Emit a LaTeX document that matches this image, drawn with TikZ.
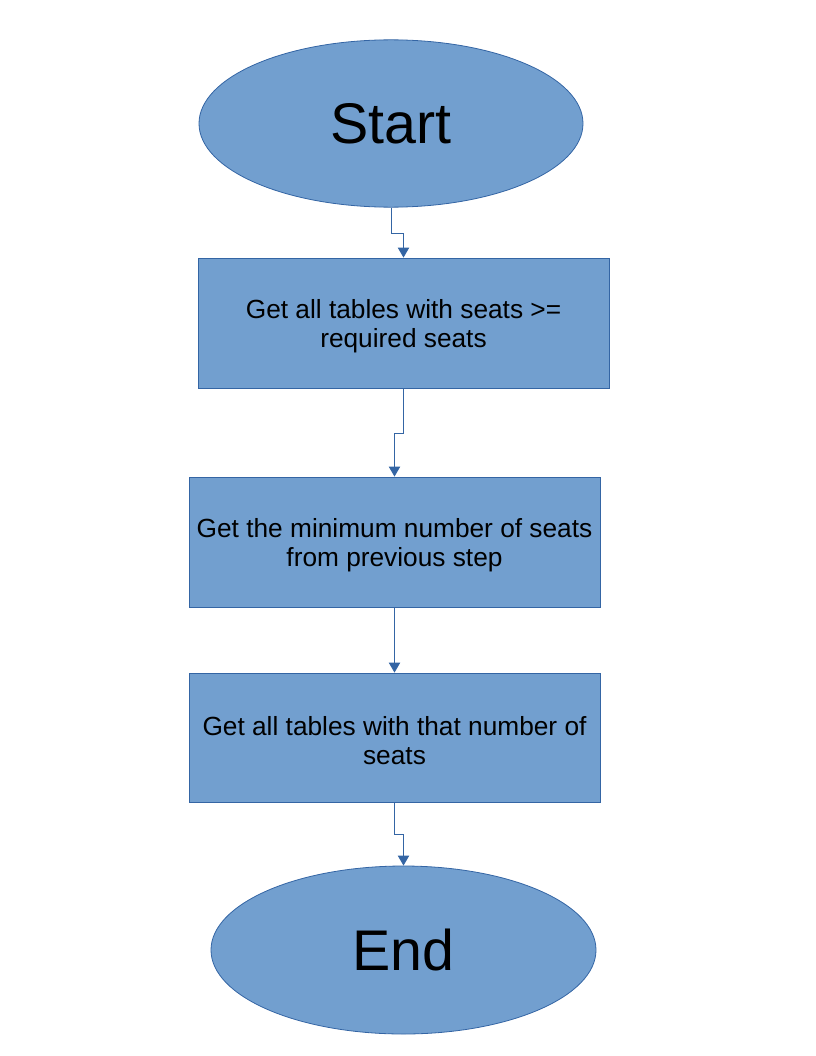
\documentclass[tikz,border=0pt]{standalone}
\usepackage{fontspec}
\setmainfont{Liberation Sans}
\usetikzlibrary{shapes.geometric,arrows.meta}
\definecolor{boxfill}{HTML}{729FCF}
\definecolor{boxline}{HTML}{3465A4}
\newcommand{\toppad}{\rule{0pt}{19pt}}
\tikzset{
  term/.style={ellipse, draw=boxline, fill=boxfill, line width=0.6pt, inner sep=0pt,
    minimum width=288pt, minimum height=125.5pt, font=\fontsize{43}{48}\selectfont},
  procbox/.style={rectangle, draw=boxline, fill=boxfill, line width=0.6pt, inner sep=0pt,
    minimum width=308.25pt, minimum height=97.5pt, align=center,
    font=\fontsize{19.7}{21.5}\selectfont},
  conn/.style={draw=boxline, line width=0.75pt, -{Triangle[width=8.5pt,length=7.5pt]}}
}
\begin{document}
\begin{tikzpicture}[x=0.75pt,y=-0.75pt]
\useasboundingbox (0,0) rectangle (816,1056);
\node[term] (s) at (391,123.5) {Start};
\node[procbox] (b1) at (403.5,323) {\toppad Get all tables with seats >=\\required seats};
\node[procbox] (b2) at (394.5,542) {\toppad Get the minimum number of seats \\from previous step};
\node[procbox, minimum height=96.75pt] (b3) at (394.5,737.5) {\toppad Get all tables with that number of\\seats};
\node[term, minimum width=288.75pt, minimum height=126pt] (e) at (403.5,950) {End};
\draw[conn] (s.south) -- ++(0,26) -| (b1.north);
\draw[conn] (b1.south) -- ++(0,45) -| (b2.north);
\draw[conn] (b2.south) -- (b3.north);
\draw[conn] (b3.south) -- ++(0,32) -| (e.north);
\end{tikzpicture}
\end{document}
